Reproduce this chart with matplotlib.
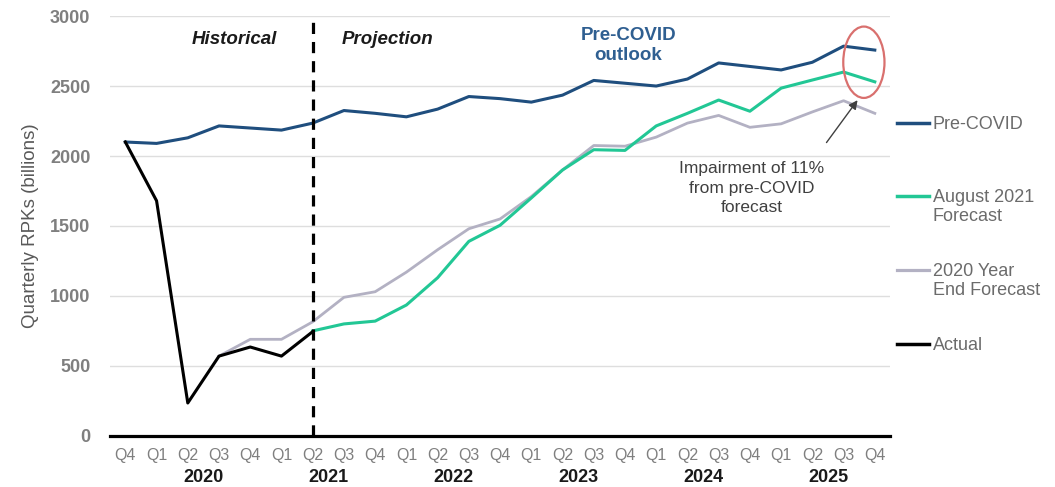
import matplotlib
matplotlib.use("Agg")
import matplotlib.pyplot as plt
from matplotlib.patches import Ellipse
from matplotlib.lines import Line2D

plt.rcParams['font.family'] = ['Liberation Sans', 'DejaVu Sans']

quarters = ["Q4", "Q1", "Q2", "Q3", "Q4", "Q1", "Q2", "Q3", "Q4",
            "Q1", "Q2", "Q3", "Q4", "Q1", "Q2", "Q3", "Q4",
            "Q1", "Q2", "Q3", "Q4", "Q1", "Q2", "Q3", "Q4"]
years = ["2020", "2021", "2022", "2023", "2024", "2025"]
year_pos = [2.5, 6.5, 10.5, 14.5, 18.5, 22.5]

pre_covid = [2100, 2090, 2130, 2215, 2200, 2185, 2235, 2325, 2305, 2280,
             2335, 2425, 2410, 2385, 2435, 2540, 2520, 2500, 2550, 2665,
             2640, 2615, 2670, 2785, 2757]
# August 2021 forecast starts at Q2 2021 (index 6)
aug2021 = [750, 800, 820, 935, 1130, 1390, 1505, 1700, 1900, 2045, 2040,
           2215, 2305, 2400, 2320, 2485, 2543, 2600, 2530]
# 2020 year end forecast starts at Q3 2020 (index 3)
ye2020 = [570, 690, 690, 815, 990, 1030, 1170, 1330, 1480, 1550, 1710,
          1900, 2075, 2070, 2135, 2235, 2290, 2205, 2230, 2315, 2395, 2305]
actual = [2100, 1680, 235, 570, 635, 570, 745]

x_all = list(range(len(quarters)))

c_blue = "#1f4e7e"
c_green = "#22c795"
c_gray = "#b3b1c3"
c_text = "#7f7f7f"

fig = plt.figure(figsize=(10.55, 4.87), dpi=100)
ax = fig.add_axes([0.104, 0.105, 0.74, 0.862])

series = [
    (x_all, pre_covid, c_blue, 2.2, "Pre-COVID", 3),
    (x_all[6:], aug2021, c_green, 2.2, "August 2021\nForecast", 4),
    (x_all[3:], ye2020, c_gray, 2.0, "2020 Year\nEnd Forecast", 3),
    (x_all[:7], actual, "black", 2.2, "Actual", 5),
]
for xs, ys, col, lw, lab, z in series:
    ax.plot(xs, ys, color=col, lw=lw, label=lab, zorder=z)

ax.axvline(6, ymin=0, ymax=1, color="black", lw=2.3,
           linestyle=(0, (3.5, 2.5)), zorder=6)

ax.set_xlim(-0.5, 24.5)
ax.set_ylim(0, 3000)
ax.set_yticks([0, 500, 1000, 1500, 2000, 2500, 3000])
ax.yaxis.grid(True, color="#dedede", lw=1.0)
ax.set_axisbelow(True)
for s in ["top", "right", "left"]:
    ax.spines[s].set_visible(False)
ax.spines["bottom"].set_color("black")
ax.spines["bottom"].set_linewidth(2.3)
ax.spines["bottom"].set_zorder(7)

ax.set_xticks(x_all)
ax.set_xticklabels(quarters, fontsize=11.5, color=c_text)
ax.tick_params(axis="both", length=0)
ax.tick_params(axis="x", pad=9)
ax.tick_params(axis="y", pad=14)
for t in ax.get_yticklabels():
    t.set_fontsize(13)
    t.set_fontweight("bold")
    t.set_color(c_text)

for yr, p in zip(years, year_pos):
    ax.text(p, -0.1, yr, transform=ax.get_xaxis_transform(), ha="center",
            va="center", fontsize=13, fontweight="bold", color="#1a1a1a")

ax.set_ylabel("Quarterly RPKs (billions)", fontsize=13.5, color="#595959",
              labelpad=8)

ax.text(3.5, 2830, "Historical", ha="center", va="center", fontsize=13.5,
        fontweight="bold", fontstyle="italic", color="#1a1a1a")
ax.text(8.4, 2830, "Projection", ha="center", va="center", fontsize=13.5,
        fontweight="bold", fontstyle="italic", color="#1a1a1a")
ax.text(16.1, 2790, "Pre-COVID\noutlook", ha="center", va="center",
        fontsize=13.5, fontweight="bold", color="#2f5f91", linespacing=1.3)

ax.add_patch(Ellipse((23.65, 2670), 1.32, 510, fill=False,
                     edgecolor="#d9706e", lw=1.6, zorder=8))
ax.annotate("", xy=(23.5, 2415), xytext=(22.4, 2080),
            arrowprops=dict(arrowstyle="-|>", color="#404040", lw=1.0,
                            mutation_scale=13), zorder=8)
ax.text(20.05, 1770, "Impairment of 11%\nfrom pre-COVID\nforecast",
        ha="center", va="center", fontsize=12.5, color="#404040",
        linespacing=1.35)

# legend drawn by hand so the handle sits on the first text line
leg_y = [0.745, 0.571, 0.395, 0.219]
for (xs, ys, col, lw, lab, z), yy in zip(series, leg_y):
    ax.add_line(Line2D([1.008, 1.049], [yy, yy], color=col, lw=lw + 0.3,
                       transform=ax.transAxes, clip_on=False))
    ax.text(1.054, yy + 0.016, lab, transform=ax.transAxes, ha="left",
            va="top", fontsize=13, color="#6b6b6b", linespacing=1.1)

fig.savefig("out.png", dpi=100)
